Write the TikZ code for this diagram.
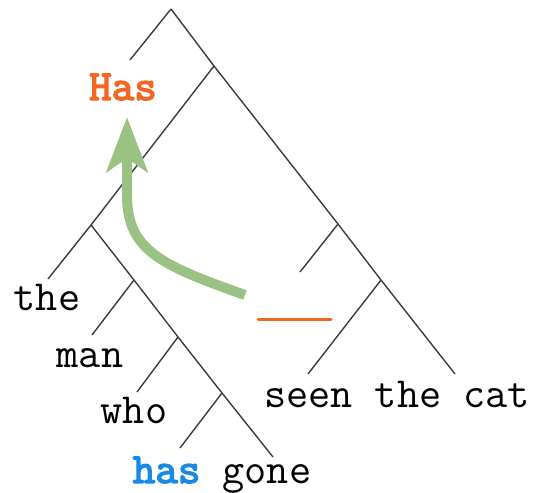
\documentclass[tikz,border=0pt]{standalone}
\usepackage{fontspec}
\newfontfamily\boldmono{lmmono10-regular}[Extension=.otf, FakeBold=3]
\usetikzlibrary{arrows.meta}
\definecolor{hasorange}{RGB}{242,101,34}
\definecolor{hasblue}{RGB}{24,138,230}
\definecolor{movegreen}{RGB}{155,194,130}
\definecolor{branchgray}{RGB}{60,60,60}
\begin{document}
\begin{tikzpicture}[x=1pt, y=-1pt,
  every node/.style={font=\fontsize{43}{46}\selectfont\ttfamily, inner sep=0pt, anchor=base},
  branch/.style={line width=1.4pt, branchgray},
  gap/.style={line width=3pt, hasorange, line cap=round},
  move/.style={line width=10pt, movegreen, -{Stealth[length=55pt, width=41pt, inset=14pt]}}]
  \useasboundingbox (0,0) rectangle (536,493);
  % branching points
  \coordinate (r) at (171,9);
  \coordinate (n1) at (214,66);
  \coordinate (n2) at (91,225);
  \coordinate (n3) at (134,280);
  \coordinate (n4) at (178,337);
  \coordinate (n5) at (222,393);
  \coordinate (n6) at (338,224);
  \coordinate (n7) at (381,280);
  % leaf ends
  \coordinate (hasTop) at (130,60);
  \coordinate (theEnd) at (48,279);
  \coordinate (manEnd) at (92,335);
  \coordinate (whoEnd) at (137,392);
  \coordinate (hasEnd) at (180,448);
  \coordinate (goneEnd) at (273,457);
  \coordinate (gapEnd) at (300,272);
  \coordinate (seenEnd) at (308,374);
  \coordinate (catEnd) at (455,374);
  % words
  \node[hasorange, font=\fontsize{43}{46}\selectfont\boldmono] (Has) at (123,100) {Has};
  \node (the) at (47,310) {the};
  \node (man) at (90,367) {man};
  \node (who) at (134,423) {who};
  \node (hasgone) at (222,483) {{\color{hasblue}\boldmono has} gone};
  \node (seen) at (397,407) {seen the cat};
  % branches
  \draw[branch] (r) -- (hasTop);
  \draw[branch] (r) -- (n1) -- (n6) -- (n7) -- (catEnd);
  \draw[branch] (n1) -- (n2) -- (theEnd);
  \draw[branch] (n2) -- (n3) -- (n4) -- (n5) -- (goneEnd);
  \draw[branch] (n3) -- (manEnd);
  \draw[branch] (n4) -- (whoEnd);
  \draw[branch] (n5) -- (hasEnd);
  \draw[branch] (n6) -- (gapEnd);
  \draw[branch] (n7) -- (seenEnd);
  % trace and movement
  \coordinate (gapL) at (258,319);
  \coordinate (gapR) at (331,319);
  \draw[gap] (gapL) -- (gapR);
  \coordinate (tail) at (245,295);
  \coordinate (tip) at (127,117);
  \draw[move] (tail) .. controls (160,265) and (127,250) .. (127,195) -- (tip);
\end{tikzpicture}
\end{document}
